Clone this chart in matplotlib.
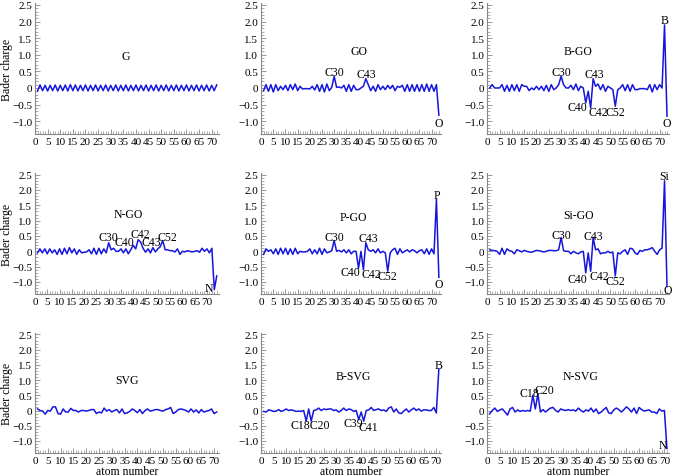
import matplotlib
matplotlib.use("Agg")
import matplotlib.pyplot as plt
from matplotlib.ticker import MultipleLocator, FuncFormatter

plt.rcParams["font.family"] = ["Liberation Serif", "DejaVu Serif"]
plt.rcParams["font.size"] = 8

# Bader charge per atom
g = [-0.09, 0.09, -0.08, 0.08, -0.09, 0.08, -0.08, 0.09, -0.09, 0.08, -0.08, 0.09,
     -0.09, 0.1, -0.08, 0.09, -0.09, 0.08, -0.08, 0.09, -0.09, 0.08, -0.08, 0.09,
     -0.09, 0.08, -0.08, 0.09, -0.09, 0.08, -0.08, 0.09, -0.09, 0.08, -0.08, 0.09,
     -0.09, 0.08, -0.08, 0.09, -0.09, 0.08, -0.08, 0.09, -0.09, 0.08, -0.08, 0.09,
     -0.09, 0.08, -0.08, 0.09, -0.09, 0.08, -0.08, 0.09, -0.09, 0.08, -0.08, 0.09,
     -0.09, 0.08, -0.08, 0.09, -0.09, 0.08, -0.08, 0.09, -0.09, 0.08, -0.08, 0.09]

go = [-0.08, 0.1, -0.1, 0.1, -0.12, 0.1, -0.08, 0.05, -0.05, 0.08, -0.08, 0.1,
      -0.05, 0.12, -0.08, 0.05, -0.03, -0.02, -0.02, -0.03, 0.05, -0.06, 0.1, -0.1,
      0.1, -0.12, 0.12, -0.08, 0.02, 0.35, 0.02, 0.03, 0.0, 0.08, -0.1, 0.1,
      -0.1, 0.08, -0.05, -0.05, 0.0, 0.05, 0.28, 0.1, -0.08, 0.05, -0.1, 0.1,
      -0.05, 0.05, -0.05, 0.08, -0.02, 0.08, -0.08, 0.05, 0.02, 0.08, -0.1, 0.1,
      -0.1, 0.1, -0.1, 0.1, -0.1, 0.1, -0.1, 0.12, -0.1, 0.1, -0.1, 0.1, -0.82]

b_go = [0.0, 0.1, 0.0, 0.0, 0.0, 0.1, -0.1, 0.08, -0.1, 0.1, -0.08, 0.1,
        -0.1, 0.1, 0.05, 0.05, -0.08, 0.0, -0.05, 0.05, -0.05, 0.05, -0.08, 0.08,
        -0.1, 0.1, -0.05, 0.0, 0.1, 0.35, 0.1, 0.0, 0.0, 0.08, -0.05, 0.12,
        -0.08, 0.05, 0.0, -0.45, -0.1, -0.6, 0.28, 0.05, 0.12, -0.05, 0.1, -0.1,
        0.05, 0.0, -0.05, -0.55, -0.05, 0.0, 0.1, -0.08, 0.1, -0.1, 0.1, -0.05,
        -0.05, -0.02, -0.02, -0.02, -0.05, 0.1, -0.12, 0.1, -0.05, 0.1, 0.0, 1.9, -0.85]

n_go = [-0.05, 0.08, -0.05, 0.08, -0.08, 0.08, -0.05, 0.05, -0.1, 0.08, -0.1, 0.1,
        -0.08, 0.12, -0.05, 0.08, -0.1, 0.05, -0.05, -0.03, -0.02, 0.05, -0.08, 0.1,
        -0.1, 0.1, -0.08, 0.08, -0.05, 0.28, 0.05, 0.1, 0.0, 0.0, 0.08, -0.05,
        0.08, -0.08, 0.05, 0.2, 0.08, 0.38, 0.3, 0.1, -0.03, 0.08, -0.05, 0.12,
        -0.02, 0.08, 0.15, 0.35, 0.05, 0.05, 0.02, 0.02, -0.02, 0.08, -0.1, 0.0,
        -0.02, 0.02, 0.0, -0.02, 0.0, 0.02, -0.03, 0.1, 0.0, 0.08, -0.05, 0.1,
        -1.25, -0.8]

p_go = [-0.1, 0.08, 0.0, 0.05, -0.08, 0.08, -0.1, 0.1, -0.08, 0.1, -0.1, 0.08,
        -0.1, 0.1, -0.08, 0.0, -0.02, -0.02, 0.0, 0.08, -0.08, 0.05, -0.08, 0.1,
        -0.1, 0.08, -0.05, -0.02, 0.02, 0.35, 0.0, 0.03, -0.02, 0.05, -0.05, 0.05,
        -0.08, 0.0, 0.0, -0.55, 0.0, -0.6, 0.28, 0.05, 0.0, 0.05, -0.05, 0.08,
        -0.05, 0.0, -0.05, -0.65, -0.05, 0.05, 0.1, -0.1, 0.08, -0.05, 0.0, 0.05,
        -0.02, 0.05, 0.02, -0.05, 0.02, 0.05, -0.08, 0.08, -0.1, 0.08, -0.08, 1.7, -0.85]

si_go = [0.05, 0.03, 0.02, 0.0, -0.1, 0.1, -0.1, 0.08, 0.02, 0.0, -0.08, 0.05,
         0.02, -0.02, 0.03, 0.0, -0.02, -0.03, 0.0, 0.03, 0.02, 0.0, -0.02, 0.0,
         0.03, 0.03, 0.02, 0.02, 0.05, 0.45, 0.02, 0.0, 0.0, -0.08, 0.0, -0.05,
         -0.08, -0.02, 0.0, -0.7, -0.05, -0.65, 0.45, 0.05, 0.08, -0.08, -0.05, -0.05,
         0.0, -0.05, -0.02, -0.8, -0.05, -0.08, 0.0, 0.05, -0.1, 0.1, 0.08, -0.05,
         -0.1, 0.03, 0.0, 0.05, 0.05, 0.08, 0.12, 0.0, -0.1, 0.05, 0.1, 2.3, -1.15]

svg = [0.05, 0.0, -0.02, -0.12, 0.0, -0.02, 0.12, 0.12, -0.1, -0.12, 0.05, -0.05,
       -0.05, 0.07, 0.0, 0.0, -0.05, 0.0, 0.0, -0.02, 0.0, 0.03, 0.03, -0.1,
       -0.05, -0.08, 0.08, -0.02, 0.03, -0.05, 0.0, 0.03, -0.08, 0.05, -0.1, -0.08,
       -0.03, 0.05, 0.0, -0.07, 0.03, -0.1, 0.0, 0.05, -0.02, 0.0, 0.03, 0.03,
       0.0, -0.02, 0.03, 0.05, 0.1, -0.1, -0.05, 0.03, 0.05, 0.03, 0.0, -0.05,
       0.05, -0.05, 0.02, -0.08, 0.03, -0.05, -0.02, 0.0, 0.05, -0.1, -0.05]

b_svg = [-0.03, -0.05, 0.02, 0.0, -0.03, -0.02, 0.03, -0.03, 0.0, 0.05, 0.0, 0.02,
         0.0, -0.03, -0.02, -0.03, 0.0, -0.35, 0.05, -0.35, 0.0, 0.02, 0.08, 0.0,
         0.05, 0.03, 0.05, 0.05, 0.0, 0.02, -0.05, 0.0, 0.08, 0.0, 0.05, 0.03,
         -0.03, 0.0, -0.3, -0.05, -0.35, 0.0, 0.02, 0.1, 0.0, 0.03, 0.05, 0.0,
         0.02, -0.03, 0.08, 0.12, -0.05, 0.05, -0.08, -0.1, -0.02, 0.05, -0.05, 0.02,
         0.08, 0.0, 0.05, -0.02, 0.02, 0.02, 0.0, 0.0, 0.1, -0.08, 1.35]

n_svg = [-0.1, 0.0, 0.08, -0.03, 0.02, 0.05, -0.05, -0.15, 0.05, 0.1, -0.05, 0.02,
         -0.03, 0.0, -0.02, 0.0, -0.02, 0.5, 0.05, 0.55, -0.05, 0.03, -0.05, 0.02,
         0.08, 0.1, 0.0, -0.05, 0.05, 0.02, 0.0, 0.03, 0.0, 0.02, -0.02, 0.08,
         0.0, -0.05, 0.02, -0.02, 0.08, -0.05, 0.05, -0.1, -0.05, 0.03, 0.1, -0.08,
         -0.1, 0.02, 0.08, 0.03, -0.05, 0.03, 0.12, 0.05, -0.05, 0.08, -0.1, 0.1,
         0.03, -0.02, 0.0, 0.02, -0.05, -0.05, -0.1, 0.05, -0.02, 0.0, -1.25]

names = ["G", "GO", "B-GO", "N-GO", "P-GO", "Si-GO", "SVG", "B-SVG", "N-SVG"]
series = [g, go, b_go, n_go, p_go, si_go, svg, b_svg, n_svg]
title_pos = [(36, 0.95), (40, 1.1), (37, 1.1), (38, 1.22), (38, 1.12), (37, 1.2),
             (36, 1.0), (37, 1.15), (37, 1.15)]

# atom labels: (text, x, y, ha)
notes = [
    [],
    [("C30", 30, 0.48, "center"), ("C43", 43, 0.42, "center"), ("O", 73, -1.05, "center")],
    [("C30", 30, 0.48, "center"), ("C43", 43.5, 0.42, "center"), ("C40", 40.8, -0.56, "right"),
     ("C42", 41.2, -0.72, "left"), ("C52", 52, -0.72, "center"), ("B", 72, 2.05, "center"),
     ("O", 73, -1.05, "center")],
    [("C30", 30, 0.46, "center"), ("C40", 40.5, 0.32, "right"), ("C42", 43, 0.56, "center"),
     ("C43", 47.5, 0.31, "center"), ("C52", 54, 0.48, "center"), ("N", 72.5, -1.2, "right")],
    [("C30", 30, 0.48, "center"), ("C43", 44, 0.42, "center"), ("C40", 40.8, -0.68, "right"),
     ("C42", 41.2, -0.75, "left"), ("C52", 52, -0.82, "center"), ("P", 72, 1.85, "center"),
     ("O", 73, -1.05, "center")],
    [("C30", 30, 0.54, "center"), ("C43", 43, 0.51, "center"), ("C40", 40.5, -0.9, "right"),
     ("C42", 41.5, -0.8, "left"), ("C52", 52, -0.96, "center"), ("Si", 72, 2.45, "center"),
     ("O", 73.3, -1.25, "center")],
    [],
    [("C18C20", 19.5, -0.47, "center"), ("C39", 37, -0.4, "center"), ("C41", 43, -0.55, "center"),
     ("B", 71, 1.5, "center")],
    [("C18", 16.5, 0.57, "center"), ("C20", 22.5, 0.66, "center"), ("N", 71, -1.15, "right")],
]

fig = plt.figure(figsize=(6.73, 4.77), dpi=100)
lefts = [0.052, 0.388, 0.724]
widths = [0.273, 0.267, 0.270]
bottoms = [0.716, 0.381, 0.048]
heights = [0.275, 0.254, 0.252]


def fmt(v, pos):
    if abs(v) < 1e-9:
        return "0"
    return ("%.1f" % v).replace("-", "\u2212")


for i, (name, ys) in enumerate(zip(names, series)):
    r, c = divmod(i, 3)
    ax = fig.add_axes([lefts[c], bottoms[r], widths[c], heights[r]])
    xs = list(range(1, len(ys) + 1))
    ax.plot(xs, ys, color="#1515dd", lw=1.1)
    ax.set_xlim(0, len(ys) + 0.8)
    ax.set_ylim(-1.4, 2.55)
    for s in ["top", "right"]:
        ax.spines[s].set_visible(False)
    for s in ["left", "bottom"]:
        ax.spines[s].set_color("#888888")
        ax.spines[s].set_linewidth(0.8)
    ax.xaxis.set_major_locator(MultipleLocator(5))
    ax.xaxis.set_minor_locator(MultipleLocator(1))
    ax.yaxis.set_major_locator(MultipleLocator(0.5))
    ax.yaxis.set_minor_locator(MultipleLocator(0.1))
    ax.yaxis.set_major_formatter(FuncFormatter(fmt))
    ax.tick_params(which="major", direction="in", length=3.5, width=0.6, color="#888888",
                   labelsize=8, pad=2)
    ax.tick_params(which="minor", direction="in", length=2, width=0.5, color="#888888")
    ax.text(title_pos[i][0], title_pos[i][1], name, ha="center", va="center", fontsize=8.5)
    for t, x, y, ha in notes[i]:
        ax.text(x, y, t, ha=ha, va="center", fontsize=8.5)
    if c == 0:
        ax.set_ylabel("Bader charge", fontsize=8.5)
        ax.yaxis.set_label_coords(-0.12, 0.5)
    if r == 2:
        ax.set_xlabel("atom number", fontsize=8.5, labelpad=0)

fig.savefig("out.png", dpi=100)
